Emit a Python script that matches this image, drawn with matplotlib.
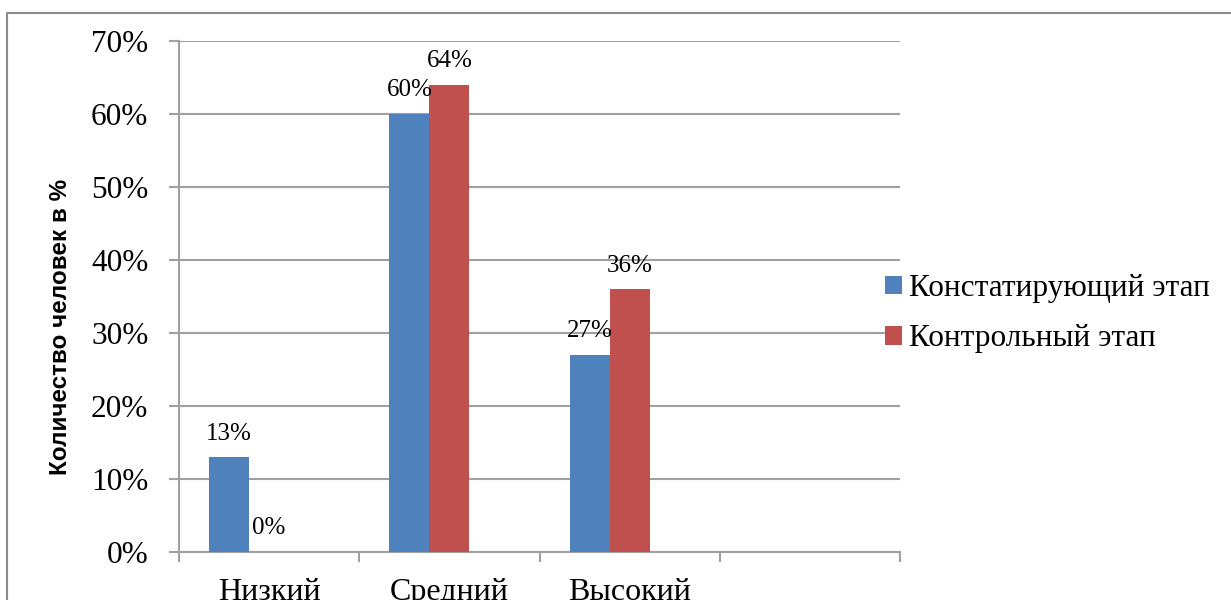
import matplotlib
matplotlib.use("Agg")
import matplotlib.pyplot as plt
import numpy as np
from matplotlib.lines import Line2D

categories = ["Низкий", "Средний", "Высокий", ""]
series_names = ["Констатирующий этап", "Контрольный этап"]
stage1 = [13, 60, 27]
stage2 = [0, 64, 36]
yticks = [0, 10, 20, 30, 40, 50, 60, 70]

BLUE = "#4F81BD"
RED = "#C0504D"
GRID = "#A0A0A0"
SERIF = "Liberation Serif"

fig = plt.figure(figsize=(12.31, 6.0), dpi=100)
ax = fig.add_axes([179 / 1231, 48 / 600, 721 / 1231, 511 / 600])

# excel-style clustered layout: 3 slots per category (third series empty), gap 150%
w = 1 / 4.5
idx = np.arange(len(stage1))
x1 = idx + 0.75 * w + 0.5 * w
x2 = x1 + w
b1 = ax.bar(x1, stage1, width=w, color=BLUE, label=series_names[0], zorder=3)
b2 = ax.bar(x2, stage2, width=w, color=RED, label=series_names[1], zorder=3)

for xs, vals in ((x1, stage1), (x2, stage2)):
    for xv, v in zip(xs, vals):
        ax.annotate(f"{v}%", (xv, v), xytext=(0, 9), textcoords="offset points",
                    ha="center", va="bottom", fontsize=18, family=SERIF)

ax.set_xlim(0, len(categories))
ax.set_ylim(0, 70)
ax.set_yticks(yticks)
ax.set_yticklabels([f"{t}%" for t in yticks], fontsize=22.5, family=SERIF)
ax.set_xticks(np.arange(len(categories) + 1))
ax.set_xticklabels([])
ax.set_xticks(np.arange(len(categories)) + 0.5, minor=True)
ax.set_xticklabels(categories, minor=True, fontsize=23, family=SERIF)
ax.tick_params(axis="x", which="minor", length=0, pad=19)
ax.tick_params(axis="x", which="major", length=7, color=GRID, width=1.5, direction="out")
ax.tick_params(axis="y", length=7, color=GRID, width=1.5, pad=15)

ax.grid(axis="y", color=GRID, lw=1.5, zorder=0)
for s in ("top", "right"):
    ax.spines[s].set_visible(False)
for s in ("left", "bottom"):
    ax.spines[s].set_color(GRID)
    ax.spines[s].set_linewidth(1.5)

ax.set_ylabel("Количество человек в %", fontsize=17.5, fontweight="bold",
              family="Liberation Sans")
ax.yaxis.set_label_coords((72 - 179) / 721, (552 - 327) / 511)

leg = fig.legend(handles=[b1, b2], loc="upper left", bbox_to_anchor=(857 / 1231, 1 - 246 / 600),
                 frameon=False, prop={"family": SERIF, "size": 22.5},
                 handlelength=0.55, handleheight=0.55, handletextpad=0.2, labelspacing=0.68)

# outer chart border
fig.add_artist(Line2D([7 / 1231, 7 / 1231, 1.01], [-0.01, 1 - 13 / 600, 1 - 13 / 600],
                      transform=fig.transFigure, color="#8C8C8C", lw=1.5))

fig.savefig("out.png", dpi=100)
